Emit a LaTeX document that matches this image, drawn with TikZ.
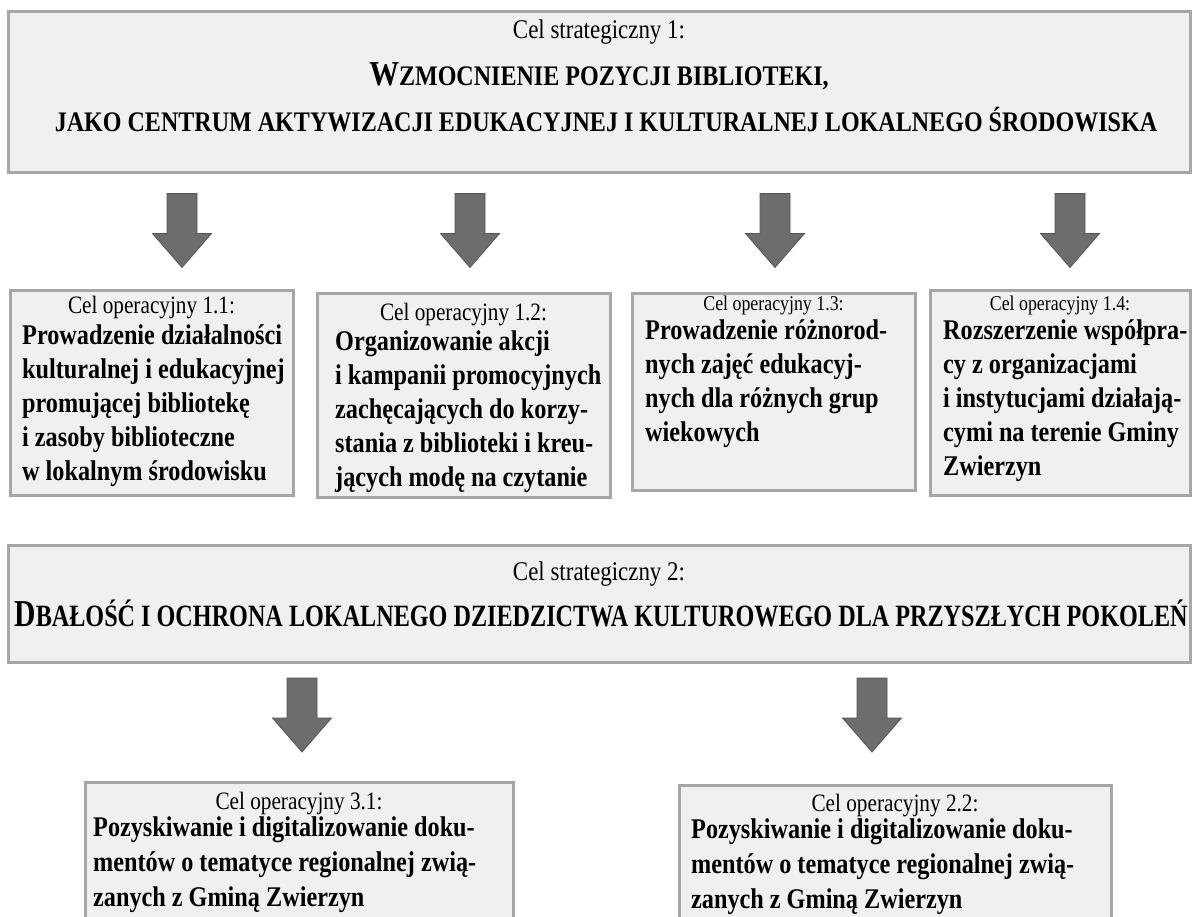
\documentclass[tikz,border=0pt]{standalone}
\usepackage{fontspec}
\setmainfont[FakeStretch=0.85]{Liberation Serif}
\newfontfamily\narrowserif[FakeStretch=0.78]{Liberation Serif}
\usetikzlibrary{positioning}
\definecolor{boxgrey}{HTML}{F0F0F0}
\definecolor{edgegrey}{HTML}{A6A6A6}
\definecolor{arrowgrey}{HTML}{6D6D6D}
\definecolor{arrowedge}{HTML}{565656}
\tikzset{
  goal/.style={draw=edgegrey,fill=boxgrey,line width=3pt,inner sep=0pt},
  goaltag/.style={inner sep=0pt,anchor=base,font=\fontsize{25}{30}\selectfont},
  smalltag/.style={inner sep=0pt,anchor=base,font=\fontsize{21}{25}\selectfont},
  % anchor at the baseline of the last line
  goaltext/.style={inner sep=0pt,anchor=base west,align=left,font=\fontsize{28.5}{34}\selectfont\bfseries},
  downarrow/.pic={\path[fill=arrowgrey,draw=arrowedge,line width=0.8pt] (-15,-37) -- (15,-37) -- (15,3) -- (29.5,3) -- (0,37) -- (-29.5,3) -- (-15,3) -- cycle;}
}
\begin{document}
\begin{tikzpicture}[x=1pt,y=-1pt]
\useasboundingbox (0,0) rectangle (1198,917);
\clip (0,0) rectangle (1198,917);
% strategic goal 1
\path (599,92.5) node[goal,minimum width=1182pt,minimum height=161pt] (sg1) {};
\path (599,39) node[goaltag,font=\fontsize{27}{32}\selectfont] (sg1tag) {Cel strategiczny 1:};
\path (599,86) node[inner sep=0pt,anchor=base,font=\fontsize{28.3}{32}\selectfont\bfseries] (sg1head) {{\fontsize{35}{40}\selectfont W}ZMOCNIENIE POZYCJI BIBLIOTEKI,};
\path (606,132) node[inner sep=0pt,anchor=base,font=\fontsize{28.3}{32}\selectfont\bfseries] (sg1sub) {JAKO CENTRUM AKTYWIZACJI EDUKACYJNEJ I KULTURALNEJ LOKALNEGO ŚRODOWISKA};
\pic (arr11) at (182,230.5) {downarrow};
\pic (arr12) at (470,230.5) {downarrow};
\pic (arr13) at (775,230.5) {downarrow};
\pic (arr14) at (1070,230.5) {downarrow};
% operational goals 1.x
\path (151.5,392.5) node[goal,minimum width=283pt,minimum height=205pt] (op11) {};
\path (151.5,313) node[goaltag] (op11tag) {Cel operacyjny 1.1:};
\path (22,480) node[goaltext] (op11txt) {Prowadzenie działalności\\ kulturalnej i edukacyjnej\\ promującej bibliotekę\\ i zasoby biblioteczne\\ w lokalnym środowisku};
\path (463.5,395) node[goal,minimum width=293pt,minimum height=204pt] (op12) {};
\path (463.5,320) node[goaltag] (op12tag) {Cel operacyjny 1.2:};
\path (335,486) node[goaltext] (op12txt) {Organizowanie akcji\\ i kampanii promocyjnych\\ zachęcających do korzy-\\ stania z biblioteki i kreu-\\ jących modę na czytanie};
\path (773.5,391.5) node[goal,minimum width=283pt,minimum height=197pt] (op13) {};
\path (773.5,310) node[smalltag] (op13tag) {Cel operacyjny 1.3:};
\path (645,441) node[goaltext] (op13txt) {Prowadzenie różnorod-\\ nych zajęć edukacyj-\\ nych dla różnych grup\\ wiekowych};
\path (1060,392.5) node[goal,minimum width=260pt,minimum height=205pt] (op14) {};
\path (1060,310) node[smalltag] (op14tag) {Cel operacyjny 1.4:};
\path (943,475) node[goaltext] (op14txt) {Rozszerzenie współpra-\\ cy z organizacjami\\ i instytucjami działają-\\ cymi na terenie Gminy\\ Zwierzyn};
% strategic goal 2
\path (599,603.5) node[goal,minimum width=1182pt,minimum height=117pt] (sg2) {};
\path (599,580) node[goaltag,font=\fontsize{27}{32}\selectfont] (sg2tag) {Cel strategiczny 2:};
\path (601,626) node[inner sep=0pt,anchor=base,font=\narrowserif\fontsize{31}{36}\selectfont\bfseries] (sg2head) {{\fontsize{38}{42}\selectfont D}BAŁOŚĆ I OCHRONA LOKALNEGO DZIEDZICTWA KULTUROWEGO DLA PRZYSZŁYCH POKOLEŃ};
\pic (arr21) at (302,715) {downarrow};
\pic (arr22) at (872,715) {downarrow};
% operational goals 3.1 and 2.2
\path (299,872) node[goal,minimum width=428pt,minimum height=180pt] (op31) {};
\path (299,809) node[goaltag] (op31tag) {Cel operacyjny 3.1:};
\path (93,906) node[goaltext,font=\fontsize{28.5}{35}\selectfont\bfseries] (op31txt) {Pozyskiwanie i digitalizowanie doku-\\ mentów o tematyce regionalnej zwią-\\ zanych z Gminą Zwierzyn};
\path (895,875) node[goal,minimum width=432pt,minimum height=180pt] (op22) {};
\path (895,811) node[goaltag] (op22tag) {Cel operacyjny 2.2:};
\path (691,908) node[goaltext,font=\fontsize{28.5}{35}\selectfont\bfseries] (op22txt) {Pozyskiwanie i digitalizowanie doku-\\ mentów o tematyce regionalnej zwią-\\ zanych z Gminą Zwierzyn};
\end{tikzpicture}
\end{document}
